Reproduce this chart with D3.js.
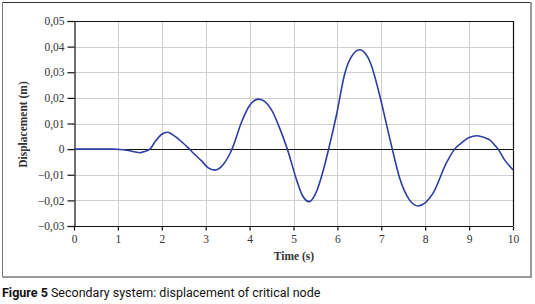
<!DOCTYPE html>
<html>
<head>
<meta charset="utf-8">
<script src="https://cdn.jsdelivr.net/npm/d3@7"></script>
<style>
  html, body { margin: 0; padding: 0; background: #fff; }
  svg { display: block; }
</style>
</head>
<body>
<svg id="chart" width="535" height="304"></svg>
<script>
// ---- data ----
const timeS = [0, 0.5, 0.9, 1.0, 1.2, 1.4, 1.5, 1.6, 1.73, 1.85, 2.0, 2.13, 2.3, 2.49, 2.62, 2.71, 2.9, 3.05, 3.21, 3.4, 3.55, 3.6, 3.82, 4.0, 4.2, 4.35, 4.5, 4.7, 4.86, 5.07, 5.2, 5.36, 5.5, 5.65, 5.8, 5.98, 6.17, 6.3, 6.51, 6.65, 6.74, 6.96, 7.1, 7.25, 7.42, 7.64, 7.84, 8.0, 8.18, 8.48, 8.67, 8.86, 9.0, 9.18, 9.35, 9.47, 9.6, 9.66, 9.8, 10];
const displacement = [0, 0, 0, -0.0001, -0.0004, -0.0011, -0.0014, -0.0010, 0, 0.0030, 0.0058, 0.0066, 0.0050, 0.0023, 0.0002, -0.0014, -0.0045, -0.0072, -0.0082, -0.0060, -0.0018, 0, 0.0107, 0.0170, 0.0195, 0.0185, 0.0153, 0.0075, 0, -0.0120, -0.0180, -0.0205, -0.0175, -0.0100, 0, 0.0134, 0.0296, 0.0355, 0.0388, 0.0370, 0.0342, 0.0212, 0.0110, 0, -0.0114, -0.0198, -0.0222, -0.0210, -0.0172, -0.0055, 0, 0.0029, 0.0045, 0.0052, 0.0045, 0.0036, 0.0012, 0, -0.0040, -0.0081];
const xTicks = [0, 1, 2, 3, 4, 5, 6, 7, 8, 9, 10];
const yTicks = [-0.03, -0.02, -0.01, 0, 0.01, 0.02, 0.03, 0.04, 0.05];
const yTickLabels = ["\u22120,03", "\u22120,02", "\u22120,01", "0", "0,01", "0,02", "0,03", "0,04", "0,05"];
const xLabel = "Time (s)";
const yLabel = "Displacement (m)";
const captionBold = "Figure 5";
const captionRest = " Secondary system: displacement of critical node";

// ---- layout ----
const svg = d3.select("#chart");
const plot = { left: 74, top: 21, right: 513, bottom: 226 };
const x = d3.scaleLinear().domain([0, 10]).range([plot.left, plot.right]);
const y = d3.scaleLinear().domain([-0.03, 0.05]).range([plot.bottom, plot.top]);

// outer frame
const frame = svg.append("g");
frame.append("line").attr("x1", 2).attr("x2", 531).attr("y1", 2.5).attr("y2", 2.5).attr("stroke", "#333").attr("stroke-width", 1);
frame.append("line").attr("x1", 2.5).attr("x2", 2.5).attr("y1", 2).attr("y2", 277).attr("stroke", "#777").attr("stroke-width", 1);
frame.append("line").attr("x1", 531).attr("x2", 531).attr("y1", 2).attr("y2", 278).attr("stroke", "#999").attr("stroke-width", 2);
frame.append("line").attr("x1", 2).attr("x2", 532).attr("y1", 277).attr("y2", 277).attr("stroke", "#999").attr("stroke-width", 2);

// gridlines
const grid = svg.append("g").attr("stroke", "#cfcfcf").attr("stroke-width", 1);
grid.selectAll("line.v").data(xTicks.slice(1, -1)).join("line")
  .attr("x1", d => Math.round(x(d)) + 0.5).attr("x2", d => Math.round(x(d)) + 0.5)
  .attr("y1", plot.top).attr("y2", plot.bottom);
grid.selectAll("line.h").data(yTicks.filter(d => d !== 0 && d !== 0.05 && d !== -0.03)).join("line")
  .attr("x1", plot.left).attr("x2", plot.right)
  .attr("y1", d => Math.round(y(d)) + 0.5).attr("y2", d => Math.round(y(d)) + 0.5);

// zero line
svg.append("line").attr("x1", plot.left).attr("x2", plot.right)
  .attr("y1", Math.round(y(0)) + 0.5).attr("y2", Math.round(y(0)) + 0.5)
  .attr("stroke", "#111").attr("stroke-width", 1);

// plot border top & right
svg.append("path")
  .attr("d", `M${plot.left},${plot.top + 0.5}H${plot.right + 0.5}V${plot.bottom}`)
  .attr("fill", "none").attr("stroke", "#111").attr("stroke-width", 1.2);

// axes
const tickFont = "'Liberation Serif', 'DejaVu Serif', serif";
const yAxis = d3.axisLeft(y).tickValues(yTicks).tickSize(7).tickPadding(3)
  .tickFormat((d, i) => yTickLabels[i]);
const gy = svg.append("g").attr("transform", `translate(${plot.left + 0.5},0)`).call(yAxis);
const xAxis = d3.axisBottom(x).tickValues(xTicks).tickSize(4).tickPadding(4)
  .tickFormat(d => String(d));
const gx = svg.append("g").attr("transform", `translate(0,${plot.bottom + 0.5})`).call(xAxis);
[gx, gy].forEach(g => {
  g.select(".domain").attr("stroke", "#111").attr("stroke-width", 1.2);
  g.selectAll(".tick line").attr("stroke", "#111").attr("stroke-width", 1.2);
  g.selectAll(".tick text").attr("font-family", tickFont).attr("font-size", 11.5).attr("fill", "#333");
});
gx.select(".domain").attr("d", `M${plot.left},0H${plot.right}`);

// line
const line = d3.line().x((d, i) => x(timeS[i])).y(d => y(d)).curve(d3.curveMonotoneX);
svg.append("path").datum(displacement)
  .attr("d", line).attr("fill", "none").attr("stroke", "#2c3e9f").attr("stroke-width", 1.6)
  .attr("stroke-linejoin", "round");

// axis labels
svg.append("text").attr("x", 294).attr("y", 260).attr("text-anchor", "middle")
  .attr("font-family", tickFont).attr("font-weight", "bold").attr("font-size", 11.5).attr("fill", "#333")
  .text(xLabel);
svg.append("text").attr("transform", "translate(27,124.5) rotate(-90)").attr("text-anchor", "middle")
  .attr("font-family", tickFont).attr("font-weight", "bold").attr("font-size", 11.5).attr("fill", "#333")
  .text(yLabel);

// caption
const cap = svg.append("text").attr("x", 2).attr("y", 297)
  .attr("font-family", "'Liberation Sans Narrow', 'Roboto', 'Open Sans', sans-serif").attr("font-size", 12.5).attr("fill", "#111");
cap.append("tspan").attr("font-weight", "bold").text(captionBold);
cap.append("tspan").text(captionRest);
</script>
</body>
</html>
